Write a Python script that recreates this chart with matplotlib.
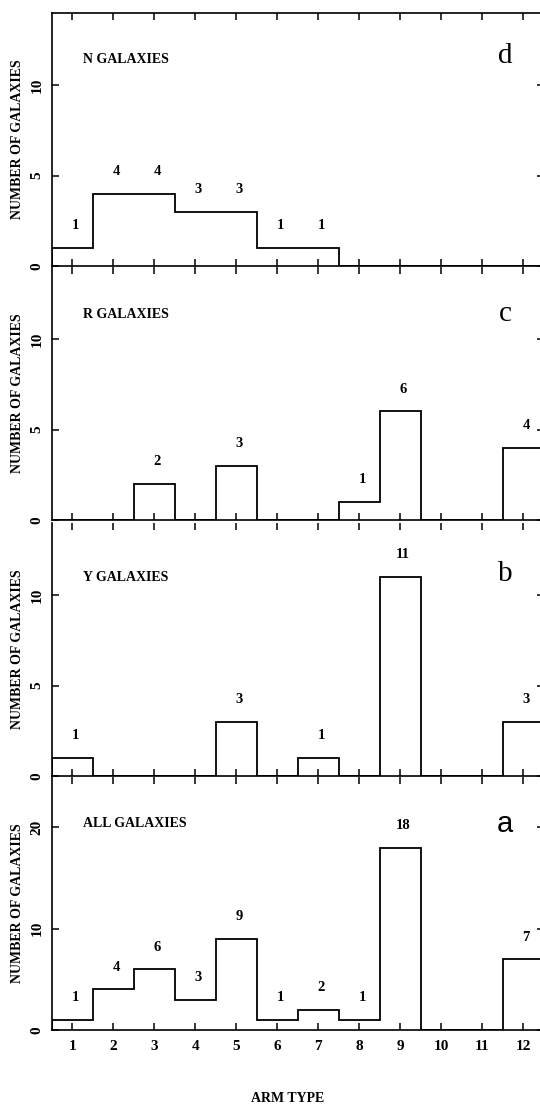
import numpy as np
import matplotlib
matplotlib.use("Agg")
import matplotlib.pyplot as plt

# arm types on the x axis (bin centres)
arm_types = np.arange(1, 13)

# counts (top to bottom: d, c, b, a)
n_counts = [1, 4, 4, 3, 3, 1, 1, 0, 0, 0, 0, 0]
r_counts = [0, 0, 2, 0, 3, 0, 0, 1, 6, 0, 0, 4]
y_counts = [1, 0, 0, 0, 3, 0, 1, 0, 11, 0, 0, 3]
all_counts = [1, 4, 6, 3, 9, 1, 2, 1, 18, 0, 0, 7]

panel_names = ["N GALAXIES", "R GALAXIES", "Y GALAXIES", "ALL GALAXIES"]
panel_letters = ["d", "c", "b", "a"]
panel_counts = [n_counts, r_counts, y_counts, all_counts]
panel_ymax = [14, 14, 14, 25]
panel_yticks = [[0, 5, 10], [0, 5, 10], [0, 5, 10], [0, 10, 20]]

W, H = 540, 1109
DPI = 100
SERIF = ["Liberation Serif", "DejaVu Serif"]

fig = plt.figure(figsize=(W / DPI, H / DPI), dpi=DPI)

ax_left = 51.7
ax_right = 543.7
panel_tops = [12.7, 266.7, 522.7, 776.7]
panel_h = 253.3
name_y = [0.814, 0.81, 0.782, 0.817]
letter_y = [0.83, 0.814, 0.798, 0.812]

edges = np.arange(0.5, 13.0, 1.0)

for i in range(4):
    bottom_px = panel_tops[i] + panel_h
    ax = fig.add_axes([ax_left / W, 1 - bottom_px / H,
                       (ax_right - ax_left) / W, panel_h / H])
    counts = np.array(panel_counts[i])
    ax.stairs(counts, edges, baseline=0, color="black", lw=1.3)

    ax.set_xlim(0.5, 12.5)
    ax.set_ylim(0, panel_ymax[i])

    for x, c in zip(arm_types, counts):
        if c > 0:
            ax.annotate(str(c), (x, c), xytext=(3, 22), textcoords="offset pixels",
                        ha="center", va="center", fontsize=10.5,
                        fontweight="bold", family=SERIF)

    ax.text(0.063, name_y[i], panel_names[i], transform=ax.transAxes,
            ha="left", va="center", fontsize=10, fontweight="bold", family=SERIF)
    letter_family = ["Liberation Sans"] if panel_letters[i] == "a" else SERIF
    ax.text(0.922, letter_y[i], panel_letters[i], transform=ax.transAxes,
            ha="center", va="center", fontsize=21, family=letter_family)

    for s in ax.spines.values():
        s.set_linewidth(1.2)
    if i > 0:
        # the panel above already draws this line
        ax.spines["top"].set_visible(False)

    ax.set_xticks(arm_types)
    ax.set_yticks(panel_yticks[i])
    ax.tick_params(axis="both", which="major", direction="in", length=5,
                   width=1.1, top=True, right=True)
    ax.set_yticklabels([str(v) for v in panel_yticks[i]], rotation=90,
                       va="center", fontsize=11, fontweight="bold", family=SERIF)
    ax.tick_params(axis="y", pad=6)
    if i == 3:
        ax.set_xticklabels([str(v) for v in arm_types], fontsize=11,
                           fontweight="bold", family=SERIF)
        ax.tick_params(axis="x", pad=7)
    else:
        ax.tick_params(axis="x", labelbottom=False)

    fig.text(18 / W, 1 - (panel_tops[i] + panel_h / 2) / H, "NUMBER OF GALAXIES",
             rotation=90, ha="center", va="center", fontsize=10,
             fontweight="bold", family=SERIF)

fig.text(288 / W, 1 - 1098 / H, "ARM TYPE", ha="center", va="center",
         fontsize=10, fontweight="bold", family=SERIF)

fig.savefig("out.png", dpi=DPI, facecolor="white")
